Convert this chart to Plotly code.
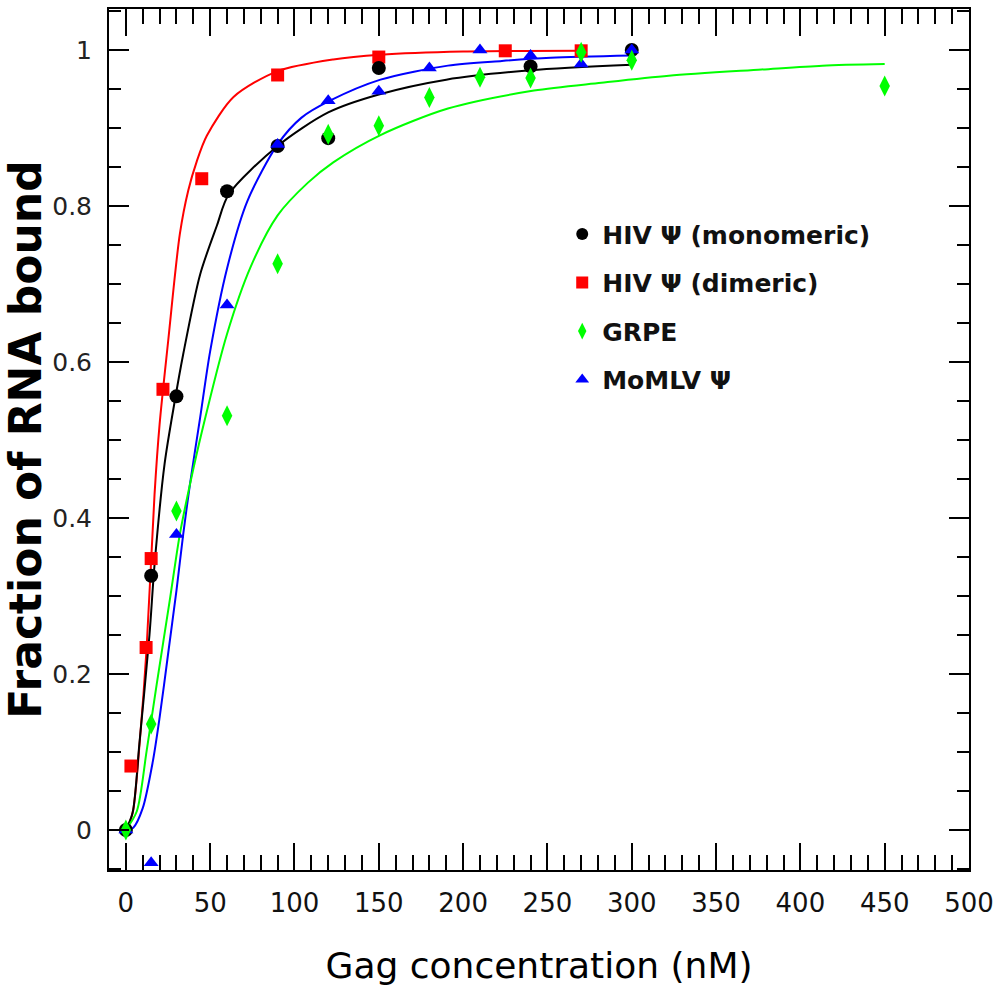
import plotly.graph_objects as go

# ---- data points ----
mono_x = [0, 15, 30, 60, 90, 120, 150, 240, 300]
mono_y = [0.0, 0.326, 0.556, 0.819, 0.877, 0.887, 0.977, 0.979, 1.0]

dim_x = [3, 12, 15, 22, 45, 90, 150, 225, 270]
dim_y = [0.082, 0.234, 0.348, 0.565, 0.835, 0.968, 0.991, 0.999, 0.999]

grpe_x = [0, 15, 30, 60, 90, 120, 150, 180, 210, 240, 270, 300, 450]
grpe_y = [0.0, 0.136, 0.409, 0.531, 0.726, 0.892, 0.903, 0.939, 0.965, 0.964, 0.997, 0.987, 0.954]

momlv_x = [0, 15, 30, 60, 90, 120, 150, 180, 210, 240, 270, 300]
momlv_y = [0.0, -0.042, 0.379, 0.673, 0.879, 0.935, 0.947, 0.977, 1.0, 0.993, 0.982, 1.0]

# ---- fitted curves ----
mono_fit_x = [0, 4, 8, 14, 17, 23, 29, 34, 44, 54, 61, 90, 120, 150, 190, 240, 300]
mono_fit_y = [0.0, 0.022, 0.11, 0.25, 0.34, 0.47, 0.55, 0.61, 0.712, 0.775, 0.815, 0.877, 0.92, 0.943, 0.962, 0.974, 0.981]

dim_fit_x = [0, 2, 4.4, 8.3, 12.3, 17, 20, 25, 32, 37, 42, 48, 64, 90, 123, 151, 200, 270]
dim_fit_y = [0.0, 0.008, 0.026, 0.115, 0.233, 0.43, 0.52, 0.625, 0.764, 0.82, 0.857, 0.89, 0.94, 0.973, 0.988, 0.994, 0.998, 0.999]

grpe_fit_x = [0, 6.5, 12.3, 18.3, 26, 32, 38, 45, 60, 74, 90, 108, 123, 151, 191, 242, 282, 322, 377, 413, 450]
grpe_fit_y = [0.0, 0.024, 0.101, 0.187, 0.294, 0.379, 0.443, 0.51, 0.636, 0.722, 0.788, 0.83, 0.856, 0.891, 0.925, 0.948, 0.958, 0.967, 0.975, 0.98, 0.982]

momlv_fit_x = [0, 4.4, 10, 16, 20, 25, 30, 34, 38, 44, 50, 60, 72, 90, 104, 121, 151, 191, 223, 252, 300]
momlv_fit_y = [0.0, 0.003, 0.028, 0.088, 0.144, 0.225, 0.307, 0.379, 0.443, 0.528, 0.614, 0.72, 0.806, 0.879, 0.913, 0.935, 0.962, 0.98, 0.986, 0.99, 0.993]

x_tick_vals = [0, 50, 100, 150, 200, 250, 300, 350, 400, 450, 500]
x_tick_text = ["0", "50", "100", "150", "200", "250", "300", "350", "400", "450", "500"]
y_tick_vals = [0, 0.2, 0.4, 0.6, 0.8, 1.0]
y_tick_text = ["0", "0.2", "0.4", "0.6", "0.8", "1"]

BLACK, RED, GREEN, BLUE = "#000000", "#ff0000", "#00ff00", "#0000ff"

fig = go.Figure()

# fitted lines
for fx, fy, col in [(dim_fit_x, dim_fit_y, RED), (mono_fit_x, mono_fit_y, BLACK),
                    (momlv_fit_x, momlv_fit_y, BLUE), (grpe_fit_x, grpe_fit_y, GREEN)]:
    fig.add_trace(go.Scatter(x=fx, y=fy, mode="lines", line=dict(color=col, width=2, shape="spline", smoothing=0.8),
                             showlegend=False, hoverinfo="skip"))

# data markers (drawing order: red, black, blue, green on top)
fig.add_trace(go.Scatter(x=dim_x, y=dim_y, mode="markers", name="HIV Ψ (dimeric)", legendrank=2,
                         legendgroup="b", marker=dict(symbol="square", size=13, color=RED)))
fig.add_trace(go.Scatter(x=mono_x, y=mono_y, mode="markers", name="HIV Ψ (monomeric)", legendrank=1,
                         legendgroup="a", marker=dict(symbol="circle", size=14, color=BLACK)))
fig.add_trace(go.Scatter(x=momlv_x, y=momlv_y, mode="markers", name="MoMLV Ψ", legendrank=4,
                         legendgroup="d", marker=dict(symbol="triangle-up", size=13, color=BLUE)))
fig.add_trace(go.Scatter(x=grpe_x, y=grpe_y, mode="markers", name="GRPE", legendrank=3,
                         legendgroup="c", marker=dict(symbol="diamond-tall", size=15, color=GREEN)))

fig.update_layout(
    width=996, height=990,
    margin=dict(l=109, r=27, t=9, b=120, autoexpand=False),
    paper_bgcolor="white", plot_bgcolor="white",
    showlegend=True,
    legend=dict(x=0.527, y=0.765, xanchor="left", yanchor="top", bgcolor="rgba(0,0,0,0)",
                font=dict(family="DejaVu Sans", size=25, color="#111111", weight="bold"),
                itemsizing="constant", tracegroupgap=13, traceorder="grouped"),
)

fig.update_xaxes(
    range=[-10, 500], tickmode="array", tickvals=x_tick_vals, ticktext=x_tick_text,
    ticks="inside", ticklen=27, tickwidth=2, tickcolor="black",
    minor=dict(dtick=10, tick0=0, ticks="inside", ticklen=15, tickwidth=2, tickcolor="black"),
    showline=True, linecolor="black", linewidth=2, mirror="ticks",
    showgrid=False, zeroline=False, automargin=False,
    tickfont=dict(family="DejaVu Sans", size=26, color="#111111"),
    ticklabelstandoff=9,
    title=dict(text="Gag concentration (nM)", standoff=36,
               font=dict(family="DejaVu Sans", size=36, color="black")),
)
fig.update_yaxes(
    range=[-0.0513, 1.0526], tickmode="array", tickvals=y_tick_vals, ticktext=y_tick_text,
    ticks="inside", ticklen=20, tickwidth=2, tickcolor="black",
    minor=dict(dtick=0.05, tick0=0, ticks="inside", ticklen=12, tickwidth=2, tickcolor="black"),
    showline=True, linecolor="black", linewidth=2, mirror="ticks",
    showgrid=False, zeroline=False, automargin=False,
    tickfont=dict(family="DejaVu Sans", size=25, color="#222222"),
    ticklabelstandoff=10,
    title=dict(text="Fraction of RNA bound", standoff=12,
               font=dict(family="DejaVu Sans", size=44, color="black", weight="bold")),
)

# remove the default 8px page margin so the figure fills the window exactly
fig.write_html("out.html", config={"displayModeBar": False},
               post_script="document.body.style.margin='0';document.body.style.overflow='hidden';")
